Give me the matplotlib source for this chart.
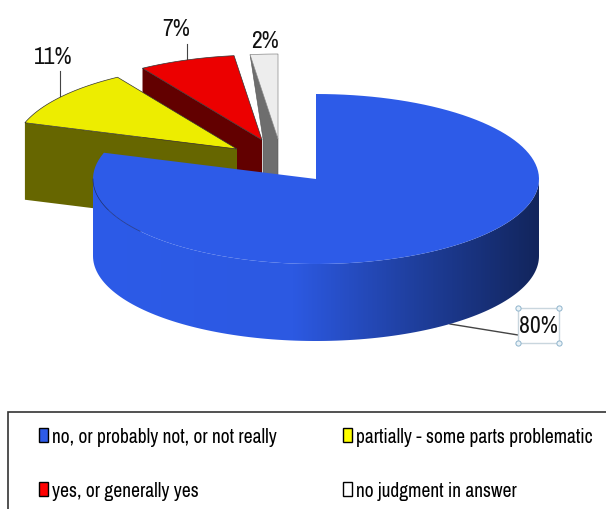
import numpy as np
import matplotlib
matplotlib.use("Agg")
import matplotlib.pyplot as plt
from matplotlib import font_manager as fm
from matplotlib.colors import LinearSegmentedColormap
from matplotlib.patches import Patch, Polygon, Rectangle

#data-------------------------
categories = ["no, or probably not, or not really", "partially - some parts problematic",
              "yes, or generally yes", "no judgment in answer"]
shares = [80, 11, 7, 2]     #[%]
top_colors = ["#2D5BE8", "#EDED00", "#EC0000", "#EDEDED"]
side_colors = ["#2D5BE8", "#666600", "#620000", "#6E6E6E"]
key_colors = ["#2D5BE8", "#FFFF00", "#FF0000", "#FFFFFF"]
#layout, in pixels-------------
cx, cy = 316, 180
rx, ry = 223, 85
depth = 77
shift = [(0, 0), (-79, -30), (-54, -39), (-38, -40)]

# narrow face if this machine has one, otherwise a smaller Liberation Sans of the same width
narrow = 'Archivo Narrow' in {f.name for f in fm.fontManager.ttflist}
plt.rcParams['font.family'] = ['Archivo Narrow', 'Liberation Sans', 'DejaVu Sans'] if narrow \
    else ['Liberation Sans', 'DejaVu Sans']
legend_size = 14 if narrow else 11.5
label_size = 17 if narrow else 14

fig = plt.figure(figsize=(6.06, 5.10), dpi=100)
ax = fig.add_axes([0, 0, 1, 1])
ax.set_xlim(0, 606)
ax.set_ylim(510, 0)
ax.axis('off')

# clockwise from 12 o'clock
edges = np.cumsum([0] + shares) * 3.6


def arc(a0, a1, sx=0, sy=0):
    t = np.radians(np.linspace(a0, a1, 120))
    return np.column_stack([cx + sx + rx * np.sin(t), cy + sy - ry * np.cos(t)])


# yellow and red cut faces, yellow in front
for i in (1, 2):
    sx, sy = shift[i]
    p0 = arc(edges[i], edges[i], sx, sy)[0]
    p1 = (cx + sx, cy + sy)
    ax.add_patch(Polygon([p0, p1, (p1[0], p1[1] + depth), (p0[0], p0[1] + depth)],
                         fc=side_colors[i], ec='none', zorder=5 - i))

# grey slice, its face narrows behind the red one
sx, sy = shift[3]
corner = arc(edges[3], edges[3], sx, sy)[0]
apex = (cx + sx, cy + sy)
ax.add_patch(Polygon([corner, apex, (apex[0], apex[1] + depth),
                      (apex[0] - 15, apex[1] + depth), (apex[0] - 15, apex[1])],
                     fc=side_colors[3], ec='#555555', lw=0.4, zorder=2.5))

# exploded top faces
order = {3: 2.6, 2: 3.5, 1: 4.5}
for i, z in order.items():
    sx, sy = shift[i]
    pts = np.vstack([[cx + sx, cy + sy], arc(edges[i], edges[i + 1], sx, sy)])
    ax.add_patch(Polygon(pts, fc=top_colors[i], ec='#8a8a8a' if i == 3 else '#333333',
                         lw=0.5, zorder=z))

# blue wall with the shading running left to right
front = arc(90, 270)
wall = np.vstack([front, (front + [0, depth])[::-1]])
wall_patch = Polygon(wall, fc='none', ec='none', zorder=6)
ax.add_patch(wall_patch)
shade = LinearSegmentedColormap.from_list(
    'shade', [(0, "#2D5BE8"), (0.45, "#2C59E2"), (0.72, "#1F3F9E"), (1, "#12255C")])
img = ax.imshow(np.linspace(0, 1, 256)[None, :], cmap=shade, aspect='auto',
                extent=(cx - rx, cx + rx, cy + ry + depth, cy - ry), zorder=6)
img.set_clip_path(wall_patch)
ax.set_xlim(0, 606)
ax.set_ylim(510, 0)

# blue top
pts = np.vstack([[cx, cy], arc(edges[0], edges[1])])
ax.add_patch(Polygon(pts, fc=top_colors[0], ec='none', zorder=7))
ax.plot(*arc(232, 270).T, color='#1A2F80', lw=0.5, zorder=8)

# leader lines and labels
ax.plot([60, 60], [72, 100], color='#444444', lw=0.8, zorder=3)
ax.plot([187, 187], [45, 63], color='#444444', lw=0.8, zorder=3)
ax.plot([450, 518], [325, 336], color='#444444', lw=1.0, zorder=5)
label_xy = [(538, 327), (53, 58), (176, 30), (265, 41)]
for share, (x, y) in zip(shares, label_xy):
    ax.text(x, y, f"{share}%", ha='center', va='center', fontsize=label_size,
            color='#111111', zorder=10)

# selected 80% label box with its handles
ax.add_patch(Rectangle((518, 309), 41, 35, fc='none', ec='#C9D6DE', lw=1, zorder=9))
hx = [518, 559, 518, 559]
hy = [309, 309, 344, 344]
ax.scatter(hx, hy, s=14, facecolor='#EAF3F8', edgecolor='#8FB4CC', lw=0.7, zorder=11)

# legend frame runs off the picture on the right and at the bottom
ax.add_patch(Rectangle((8, 413), 640, 140, fc='white', ec='#333333', lw=1.2, zorder=1))
handles = [Patch(fc=c, ec='black', lw=1.0) for c in key_colors]
# matplotlib fills columns first, so the entries go in reading order per column
leg = ax.legend([handles[0], handles[2], handles[1], handles[3]],
                [categories[0], categories[2], categories[1], categories[3]],
                ncol=2, frameon=False, fontsize=legend_size, loc='upper left',
                bbox_to_anchor=(39 / 606, 1 - 428 / 510), borderpad=0, borderaxespad=0,
                handlelength=0.48, handleheight=0.7, handletextpad=0.2,
                labelspacing=1.8, columnspacing=3.4)
leg.set_zorder(12)

fig.savefig("out.png", dpi=100)
